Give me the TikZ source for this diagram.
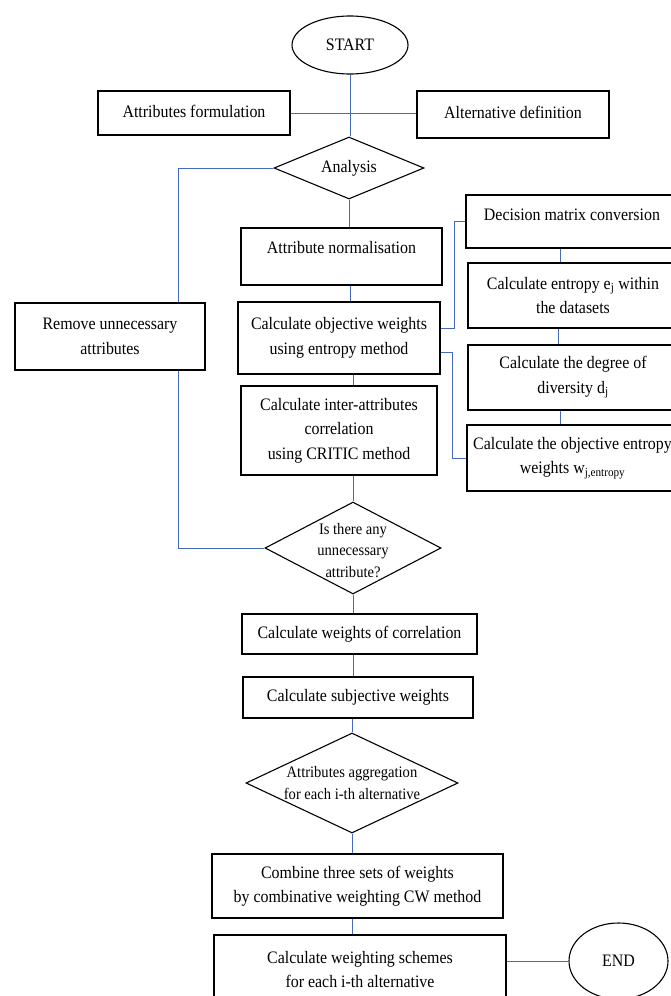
\documentclass[tikz,border=0pt]{standalone}
\usepackage{fontspec}
\setmainfont{Liberation Serif}[FakeStretch=0.91]
\usetikzlibrary{shapes.geometric}
\definecolor{lnblue}{RGB}{68,106,190}
\newcommand\mybig{\fontsize{17.5}{24.5}\selectfont}
\newcommand\mysmall{\fontsize{16}{21.5}\selectfont}
\begin{document}
\begin{tikzpicture}[x=1pt,y=-1pt,
 box/.style={draw=black, line width=1.1pt, rectangle, inner sep=0pt, align=center, font=\mybig},
 oval/.style={draw=black, line width=1.1pt, ellipse, inner sep=0pt, font=\mybig},
 dia/.style={draw=black, line width=1.1pt, diamond, aspect=2, inner sep=-16pt, align=center, font=\mysmall},
 link/.style={draw=lnblue, line width=0.9pt},
 one/.style={text height=12pt, text depth=4pt}
]
\clip (0,0) rectangle (671,996);
\fill[white] (0,0) rectangle (671,996);

% main column
\node[oval, minimum width=116pt, minimum height=58pt] (start) at (350,45) {START};
\node[box, one, minimum width=192pt, minimum height=44pt] (attrf) at (194,113) {Attributes formulation};
\node[box, one, minimum width=192pt, minimum height=47pt] (altdef) at (513,114.5) {Alternative definition};
\node[dia, font=\mybig, inner sep=0pt, minimum width=150pt, minimum height=62pt] (analysis) at (349,168) {Analysis};
\node[box, minimum width=190pt, minimum height=67pt] (remove) at (110,336.5) {Remove unnecessary\\attributes};
\node[box, text height=12pt, text depth=18pt, minimum width=201pt, minimum height=57pt] (norm) at (341.5,256.5) {Attribute normalisation};
\node[box, minimum width=202pt, minimum height=72pt] (obj) at (339,338) {Calculate objective weights\\using entropy method};
\node[box, minimum width=196pt, minimum height=89pt] (critic) at (339,430.5) {Calculate inter-attributes\\correlation\\using CRITIC method};
\node[dia, minimum width=176pt, minimum height=92pt] (isany) at (353,548) {\rule{0pt}{16pt}Is there any\\unnecessary\\attribute?};
\node[box, one, minimum width=235pt, minimum height=40pt] (corr) at (359.5,634) {Calculate weights of correlation};
\node[box, one, minimum width=230pt, minimum height=41pt] (subj) at (358,697.5) {Calculate subjective weights};
\node[dia, minimum width=212pt, minimum height=100pt] (agg) at (352,783) {Attributes aggregation\\for each i-th alternative};
\node[box, minimum width=291pt, minimum height=64pt] (comb) at (357.5,886) {Combine three sets of weights\\by combinative weighting CW method};
\node[box, minimum width=292pt, minimum height=69pt] (scheme) at (360,969.5) {Calculate weighting schemes\\for each i-th alternative};
\node[oval, minimum width=99pt, minimum height=76pt] (end) at (618.5,961) {END};

% right column
\node[box, text height=12pt, text depth=15pt, minimum width=212pt, minimum height=53pt] (dm) at (572,221.5) {Decision matrix conversion};
\node[box, minimum width=210pt, minimum height=65pt] (ent) at (573,295.5) {Calculate entropy e\textsubscript{j} within\\the datasets};
\node[box, minimum width=210pt, minimum height=65pt] (div) at (573,377.5) {Calculate the degree of\\diversity d\textsubscript{j}};
\node[box, minimum width=211pt, minimum height=66pt] (owt) at (572.5,458) {Calculate the objective entropy\\weights w\textsubscript{j,entropy}};

% helper columns
\coordinate (lx) at (178,0);
\coordinate (cx) at (350,0);
\coordinate (rx) at (560,0);
\coordinate (rx2) at (558,0);

% connectors
\draw[link] (start.south) -- (start.south |- analysis.north);
\draw[link] (attrf.east) -- (attrf.east -| altdef.west);
\draw[link] (analysis.west) -- (analysis.west -| lx) -- (lx |- remove.north);
\draw[link] (lx |- remove.south) -- (lx |- isany.west) -- (isany.west);
\draw[link] (analysis.south) -- (analysis.south |- norm.north);
\draw[link] (cx |- norm.south) -- (cx |- obj.north);
\draw[link] (isany.north |- obj.south) -- (isany.north |- critic.north);
\draw[link] (isany.north |- critic.south) -- (isany.north);
\draw[link] ([yshift=10pt]obj.east) -- ++(14,0) |- (dm.west);
\draw[link] ([yshift=-14pt]obj.east) -- ++(12,0) |- (owt.west);
\draw[link] (rx |- dm.south) -- (rx |- ent.north);
\draw[link] (rx2 |- ent.south) -- (rx2 |- div.north);
\draw[link] (rx |- div.south) -- (rx |- owt.north);
\draw[link] (isany.south) -- (isany.south |- corr.north);
\draw[link] (isany.south |- corr.south) -- (isany.south |- subj.north);
\draw[link] (agg.north |- subj.south) -- (agg.north);
\draw[link] (agg.south) -- (agg.south |- comb.north);
\draw[link] (agg.south |- comb.south) -- (agg.south |- scheme.north);
\draw[link] (scheme.east |- end.west) -- (end.west);
\end{tikzpicture}
\end{document}
